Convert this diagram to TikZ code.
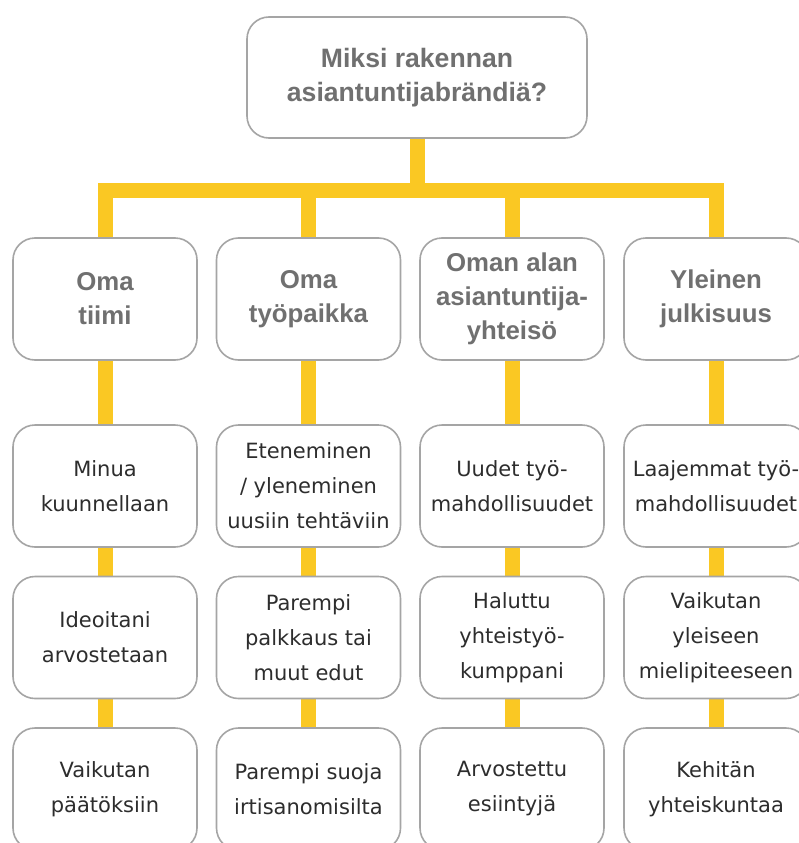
\documentclass[tikz,border=0pt]{standalone}
\usepackage{fontspec}
\setmainfont{DejaVu Sans}
\newfontfamily\headfont{Liberation Sans}
\usetikzlibrary{backgrounds}
\definecolor{brandyellow}{RGB}{250,200,35}
\definecolor{boxline}{RGB}{165,165,165}
\definecolor{headgray}{RGB}{112,112,112}
\definecolor{bodygray}{RGB}{45,45,45}
\begin{document}
\begin{tikzpicture}[x=1pt,y=-1pt,
  box/.style={draw=boxline, line width=1.6pt, fill=white, rounded corners=22pt,
    minimum width=184pt, minimum height=122pt, inner sep=0pt, align=center},
  topbox/.style={box, minimum width=340pt, minimum height=121pt,
    font=\headfont\bfseries\fontsize{26.6}{34}\selectfont, text=headgray},
  headbox/.style={box, font=\headfont\bfseries\fontsize{25.8}{34}\selectfont, text=headgray},
  itembox/.style={box, font=\fontsize{21}{35}\selectfont, text=bodygray},
  conn/.style={draw=brandyellow, line width=15pt}]
\useasboundingbox (0,0) rectangle (798,843);

\node[topbox] (top) at (417,77.5) {Miksi rakennan\\asiantuntijabrändiä?};
\coordinate (bar) at (417,190);

\node[headbox] (h1) at (105,299) {Oma\\tiimi};
\node[headbox] (h2) at (308.5,299) {Oma\\työpaikka};
\node[headbox] (h3) at (512,299) {Oman alan\\asiantuntija-\\yhteisö};
\node[headbox] (h4) at (716,299) {Yleinen\\julkisuus};

\node[itembox] (a1) at (105,486) {Minua\\kuunnellaan};
\node[itembox] (a2) at (308.5,486) {Eteneminen\\/ yleneminen\\uusiin tehtäviin};
\node[itembox] (a3) at (512,486) {Uudet työ-\\mahdollisuudet};
\node[itembox] (a4) at (716,486) {Laajemmat työ-\\mahdollisuudet};

\node[itembox] (b1) at (105,637.5) {Ideoitani\\arvostetaan};
\node[itembox] (b2) at (308.5,637.5) {Parempi\\palkkaus tai\\muut edut};
\node[itembox] (b3) at (512,637.5) {Haluttu\\yhteistyö-\\kumppani};
\node[itembox] (b4) at (716,637.5) {Vaikutan\\yleiseen\\mielipiteeseen};

\node[itembox] (c1) at (105,789) {Vaikutan\\päätöksiin};
\node[itembox] (c2) at (308.5,789) {Parempi suoja\\irtisanomisilta};
\node[itembox] (c3) at (512,789) {Arvostettu\\esiintyjä};
\node[itembox] (c4) at (716,789) {Kehitän\\yhteiskuntaa};

\begin{scope}[on background layer]
\fill[white] (0,0) rectangle (798,843);
\draw[conn] (top.south) -- (top.south |- bar);
\draw[conn, line join=miter] (h1.north) -- (h1.north |- bar) -- (h4.north |- bar) -- (h4.north);
\draw[conn] (h2.north) -- (h2.north |- bar);
\draw[conn] (h3.north) -- (h3.north |- bar);
\foreach \c in {1,2,3,4}{
  \draw[conn] (h\c.south) -- (a\c.north);
  \draw[conn] (a\c.south) -- (b\c.north);
  \draw[conn] (b\c.south) -- (c\c.north);
}
\end{scope}
\end{tikzpicture}
\end{document}
